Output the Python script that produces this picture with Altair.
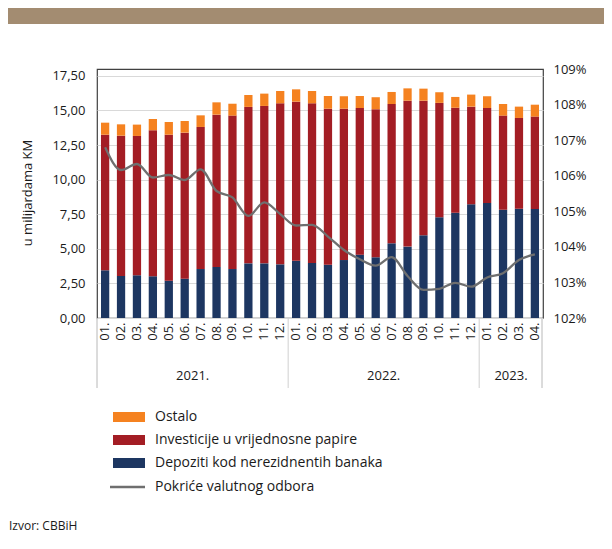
import altair as alt
import pandas as pd

years = ["2021."] * 12 + ["2022."] * 12 + ["2023."] * 4
months = ["01.", "02.", "03.", "04.", "05.", "06.", "07.", "08.", "09.", "10.", "11.", "12."] * 2 + ["01.", "02.", "03.", "04."]

depoziti = [3.45, 3.04, 3.09, 3.01, 2.70, 2.84, 3.54, 3.69, 3.54, 3.95, 3.95, 3.88,
            4.14, 3.98, 3.85, 4.19, 4.58, 4.39, 5.40, 5.16, 5.98, 7.28, 7.61, 8.22,
            8.31, 7.83, 7.90, 7.88]
investicije_top = [13.25, 13.18, 13.16, 13.57, 13.25, 13.40, 13.81, 14.70, 14.63, 15.26, 15.33, 15.52,
                   15.64, 15.52, 15.13, 15.13, 15.18, 15.09, 15.47, 15.71, 15.71, 15.55, 15.20, 15.28,
                   15.18, 14.63, 14.46, 14.56]
ukupno = [14.12, 14.00, 13.98, 14.39, 14.17, 14.24, 14.65, 15.59, 15.49, 16.12, 16.22, 16.41,
          16.53, 16.41, 16.05, 16.03, 16.05, 15.96, 16.34, 16.60, 16.58, 16.32, 15.98, 16.15,
          16.03, 15.47, 15.28, 15.42]
pokrice = [106.80, 106.16, 106.33, 105.95, 106.02, 105.88, 106.18, 105.57, 105.39, 104.87, 105.25, 104.92,
           104.60, 104.62, 104.29, 103.91, 103.65, 103.47, 103.71, 103.18, 102.79, 102.82, 102.99, 102.88,
           103.14, 103.26, 103.63, 103.79]

series = ["Ostalo", "Investicije u vrijednosne papire", "Depoziti kod nerezidnentih banaka"]
colors = ["#f58220", "#a31d24", "#1d3661"]
line_label = "Pokriće valutnog odbora"
line_color = "#6f6f6f"

keys = [y[:4] + "-" + m[:2] for y, m in zip(years, months)]

rows = []
for i, k in enumerate(keys):
    inv = investicije_top[i] - depoziti[i]
    ost = ukupno[i] - investicije_top[i]
    rows.append({"key": k, "serija": series[2], "v": depoziti[i], "ord": 0})
    rows.append({"key": k, "serija": series[1], "v": inv, "ord": 1})
    rows.append({"key": k, "serija": series[0], "v": ost, "ord": 2})
bars_df = pd.DataFrame(rows)
line_df = pd.DataFrame({"key": keys, "p": pokrice})

FONT = "Open Sans"
W, H = 446, 249
STEP = W / (28 - 0.48 + 0.5)

xscale = alt.Scale(domain=keys, paddingInner=0.48, paddingOuter=0.25)
xaxis = alt.Axis(title=None, labelAngle=-90, labelExpr="substring(datum.value, 5, 7) + '.'",
                 ticks=False, domain=False, labelFontSize=13, labelFont=FONT, labelColor="#1a1a1a",
                 labelPadding=4, labelAlign="right", labelBaseline="middle")

bars = alt.Chart(bars_df).mark_bar().encode(
    x=alt.X("key:N", scale=xscale, axis=xaxis, sort=keys),
    y=alt.Y("v:Q", stack="zero",
            scale=alt.Scale(domain=[0, 18], nice=False),
            axis=alt.Axis(title=None, values=[0, 2.5, 5, 7.5, 10, 12.5, 15, 17.5], orient="left",
                          labelExpr="replace(format(datum.value, '.2f'), '.', ',')",
                          grid=True, gridColor="#d9d9d9", ticks=False, domain=False,
                          labelFontSize=13, labelFont=FONT, labelColor="#1a1a1a", labelPadding=12)),
    color=alt.Color("serija:N", scale=alt.Scale(domain=series, range=colors), legend=None),
    order=alt.Order("ord:Q"),
)

line = alt.Chart(line_df).mark_line(interpolate="monotone", strokeWidth=2.3, color=line_color).encode(
    x=alt.X("key:N", scale=xscale, sort=keys),
    y=alt.Y("p:Q", scale=alt.Scale(domain=[102, 109], nice=False, zero=False),
            axis=alt.Axis(title=None, orient="right", values=[102, 103, 104, 105, 106, 107, 108, 109],
                          labelExpr="format(datum.value, '.0f') + '%'", grid=False, ticks=False,
                          domain=False, labelFontSize=13, labelFont=FONT, labelColor="#1a1a1a",
                          labelPadding=10)),
)

# year labels
year_names = ["2021.", "2022.", "2023."]
year_anchor = ["2021-06", "2022-06", "2023-02"]
year_df = pd.DataFrame({"key": year_anchor, "label": year_names})
year_text = alt.Chart(year_df).mark_text(font=FONT, fontSize=13, color="#1a1a1a", dx=STEP / 2,
                                         baseline="middle").encode(
    x=alt.X("key:N", scale=xscale, sort=keys),
    y=alt.value(H + 58),
    text="label:N",
)

sep_df = pd.DataFrame({"key": ["2021-12", "2022-12"]})
seps = alt.Chart(sep_df).mark_rule(color="#d0d0d0", strokeWidth=1, xOffset=STEP / 2).encode(
    x=alt.X("key:N", scale=xscale, sort=keys),
    y=alt.value(H), y2=alt.value(H + 70),
)
edge_df = pd.DataFrame({"e": ["l", "r"]})
edge_l = alt.Chart(edge_df).mark_rule(color="#d0d0d0", strokeWidth=1).encode(
    x=alt.value(0), y=alt.value(H), y2=alt.value(H + 70))
edge_r = alt.Chart(edge_df).mark_rule(color="#d0d0d0", strokeWidth=1).encode(
    x=alt.value(W - 1), y=alt.value(H), y2=alt.value(H + 70))

# top band
band = alt.Chart(pd.DataFrame({"b": [1]})).mark_rect(color="#a38c71").encode(
    x=alt.value(-89), x2=alt.value(W + 61), y=alt.value(-61), y2=alt.value(-45))

# y title
ytitle = alt.Chart(pd.DataFrame({"t": ["u milijardama KM"]})).mark_text(
    font=FONT, fontSize=13, color="#1a1a1a", angle=270, baseline="middle", align="center").encode(
    x=alt.value(-69), y=alt.value(124), text="t:N")

# legend
legend_layers = []
ly = [348, 371, 394, 418]
for i, (lab, col) in enumerate(zip(series, colors)):
    d = pd.DataFrame({"label": [lab]})
    legend_layers.append(alt.Chart(d).mark_rect(color=col).encode(
        x=alt.value(16), x2=alt.value(48), y=alt.value(ly[i] - 5), y2=alt.value(ly[i] + 5)))
    legend_layers.append(alt.Chart(d).mark_text(font=FONT, fontSize=14, color="#1a1a1a", align="left",
                                                baseline="middle").encode(
        x=alt.value(58), y=alt.value(ly[i]), text="label:N"))
d = pd.DataFrame({"label": [line_label]})
legend_layers.append(alt.Chart(d).mark_rule(color=line_color, strokeWidth=2.5).encode(
    x=alt.value(13), x2=alt.value(48), y=alt.value(ly[3])))
legend_layers.append(alt.Chart(d).mark_text(font=FONT, fontSize=14, color="#1a1a1a", align="left",
                                            baseline="middle").encode(
    x=alt.value(58), y=alt.value(ly[3]), text="label:N"))

src = alt.Chart(pd.DataFrame({"s": ["Izvor: CBBiH"]})).mark_text(
    font=FONT, fontSize=12, color="#1a1a1a", align="left", baseline="middle").encode(
    x=alt.value(-88), y=alt.value(H + 208), text="s:N")

chart = alt.layer(
    bars, line, year_text, seps, edge_l, edge_r, band, ytitle, *legend_layers, src
).resolve_scale(y="independent").properties(
    width=W, height=H,
    autosize=alt.AutoSizeParams(type="none"),
    padding={"left": 89, "top": 61, "right": 61, "bottom": 221},
    background="white",
).configure_view(stroke="#404040", strokeWidth=1.2)

chart.save("out.html", embed_options={"renderer": "svg", "actions": False})
